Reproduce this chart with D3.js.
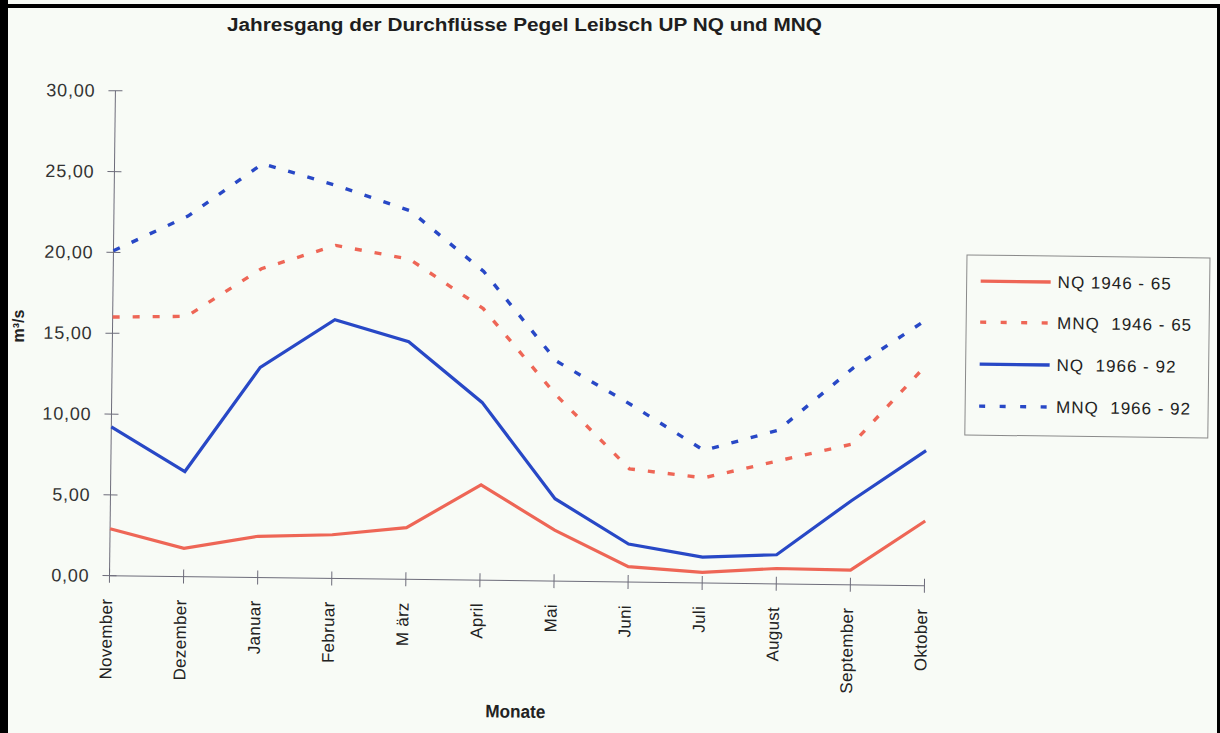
<!DOCTYPE html>
<html>
<head>
<meta charset="utf-8">
<script src="https://cdn.jsdelivr.net/npm/d3@7/dist/d3.min.js"></script>
<style>
  html, body { margin: 0; padding: 0; background: #f8fbf6; }
  svg { display: block; }
  text { font-family: "Liberation Sans", Arial, Helvetica, sans-serif; }
</style>
</head>
<body>
<svg id="chart" width="1220" height="733"></svg>
<script>
// Monthly low-water discharge at gauge Leibsch UP (hydrological year Nov–Okt)
const months = ["November", "Dezember", "Januar", "Februar", "M ärz", "April",
                "Mai", "Juni", "Juli", "August", "September", "Oktober"];
const nq1946 = [2.9, 1.75, 2.55, 2.7, 3.2, 5.9, 3.15, 0.95, 0.65, 0.95, 0.9, 4.0];
const mnq1946 = [16.0, 16.1, 19.1, 20.6, 19.8, 16.8, 11.5, 7.0, 6.5, 7.6, 8.7, 13.7];
const nq1966 = [9.2, 6.5, 13.0, 16.0, 14.7, 11.0, 5.1, 2.35, 1.6, 1.8, 5.2, 8.35];
const mnq1966 = [20.1, 22.3, 25.6, 24.3, 22.8, 19.1, 13.6, 11.0, 8.2, 9.5, 13.4, 16.5];
const yTicks = [0, 5, 10, 15, 20, 25, 30];
const legendLabels = ["NQ 1946 - 65", "MNQ  1946 - 65", "NQ  1966 - 92", "MNQ  1966 - 92"];

const RED = "#ee6656", BLUE = "#2848c6";
const seriesList = [
  { values: nq1946,  color: RED,  dash: null },
  { values: mnq1946, color: RED,  dash: "7,13" },
  { values: nq1966,  color: BLUE, dash: null },
  { values: mnq1966, color: BLUE, dash: "7,13" }
];

const svg = d3.select("#chart");

// page background and frame
svg.append("rect").attr("width", 1220).attr("height", 733).attr("fill", "#f8fbf6");
svg.append("rect").attr("x", 0).attr("y", 0).attr("width", 8).attr("height", 733).attr("fill", "#000");
svg.append("rect").attr("x", 0).attr("y", 4).attr("width", 1220).attr("height", 4).attr("fill", "#000");
svg.append("rect").attr("x", 1217).attr("y", 4).attr("width", 3).attr("height", 729).attr("fill", "#000");

// title
svg.append("text")
  .attr("x", 227).attr("y", 31)
  .attr("textLength", 595).attr("lengthAdjust", "spacingAndGlyphs")
  .style("font-size", "18px").style("font-weight", "bold").attr("fill", "#1e1e1e")
  .text("Jahresgang der Durchflüsse Pegel Leibsch UP NQ und MNQ");

// plot area (slightly tilted, as on the printed sheet)
const W = 815, H = 485;
const x = d3.scalePoint().domain(months).range([0, W]);
const y = d3.scaleLinear().domain([0, 30]).range([0, -H]);

const g = svg.append("g").attr("transform", "translate(109.5,575.7) rotate(0.7)");
const axisColor = "#6d6c7a";

// y axis
g.append("line").attr("x1", 0).attr("x2", 0).attr("y1", 0).attr("y2", y(30))
  .attr("stroke", axisColor).attr("stroke-width", 1);
g.selectAll(".ytick").data(yTicks).join("line")
  .attr("x1", -7).attr("x2", 7).attr("y1", d => y(d)).attr("y2", d => y(d))
  .attr("stroke", axisColor).attr("stroke-width", 1);
const yAxis = g.append("g")
  .call(d3.axisLeft(y).tickValues(yTicks).tickSize(0).tickPadding(20)
    .tickFormat(d => d3.format(".2f")(d).replace(".", ",")));
yAxis.select(".domain").remove();
yAxis.selectAll("text").style("font-size", "18px").style("letter-spacing", "0.8px")
  .attr("fill", "#333").style("font-family", '"Liberation Sans", Arial, sans-serif');

// x axis
g.append("line").attr("x1", 0).attr("x2", W).attr("y1", 0).attr("y2", 0)
  .attr("stroke", axisColor).attr("stroke-width", 1);
g.selectAll(".xtick").data(months).join("line")
  .attr("x1", d => x(d)).attr("x2", d => x(d)).attr("y1", -7).attr("y2", 7)
  .attr("stroke", axisColor).attr("stroke-width", 1);
const xAxis = g.append("g")
  .call(d3.axisBottom(x).tickSize(0).tickPadding(0));
xAxis.select(".domain").remove();
xAxis.selectAll("text")
  .attr("transform", "rotate(-90)")
  .attr("x", -23).attr("y", 0).attr("dy", "0.35em")
  .attr("text-anchor", "end")
  .style("font-size", "17px").style("letter-spacing", "0.3px")
  .style("font-family", '"Liberation Sans", Arial, sans-serif')
  .attr("fill", "#222")
  .style("white-space", "pre");
xAxis.selectAll(".tick").attr("transform", d => `translate(${x(d) - 3},0)`);

// data lines
const line = d3.line().x((d, i) => x(months[i])).y(d => y(d));
g.selectAll(".series").data(seriesList).join("path")
  .attr("d", s => line(s.values))
  .attr("fill", "none")
  .attr("stroke", s => s.color)
  .attr("stroke-width", s => s.dash ? 3.4 : 3.2)
  .attr("stroke-dasharray", s => s.dash)
  .attr("stroke-linejoin", "miter");

// axis titles
g.append("text")
  .attr("x", W / 2).attr("y", 137)
  .attr("text-anchor", "middle")
  .attr("textLength", 60).attr("lengthAdjust", "spacingAndGlyphs")
  .style("font-size", "18px").style("font-weight", "bold").attr("fill", "#222")
  .text("Monate");

svg.append("text")
  .attr("transform", "translate(24,326) rotate(-90)")
  .attr("text-anchor", "middle")
  .style("font-size", "16px").style("font-weight", "bold").attr("fill", "#222")
  .text("m³/s");

// legend
const lg = svg.append("g").attr("transform", "translate(967,255) rotate(0.7)");
lg.append("rect").attr("x", 0).attr("y", 0).attr("width", 243).attr("height", 180)
  .attr("fill", "none").attr("stroke", "#8a8a8a").attr("stroke-width", 1);
const rowY = [26, 67, 109, 151];
const items = lg.selectAll(".item").data(seriesList).join("g")
  .attr("transform", (d, i) => `translate(0,${rowY[i]})`);
items.append("line")
  .attr("x1", 14).attr("x2", 84).attr("y1", 0).attr("y2", 0)
  .attr("stroke", d => d.color).attr("stroke-width", 3.4)
  .attr("stroke-dasharray", d => d.dash ? "6,14.5" : null);
items.append("text")
  .attr("x", 91).attr("y", 6)
  .style("font-size", "17px").style("letter-spacing", "1px").style("white-space", "pre")
  .attr("fill", "#222")
  .text((d, i) => legendLabels[i]);
</script>
</body>
</html>
